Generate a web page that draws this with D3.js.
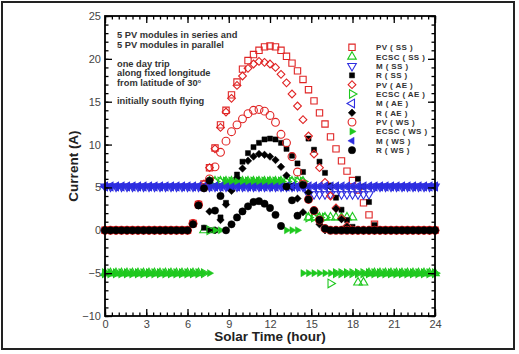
<!DOCTYPE html>
<meta charset="utf-8">
<title>PV current, one day trip</title>
<body>
<script src="https://cdn.jsdelivr.net/npm/d3@7"></script>
<style>
html, body {
    margin: 0;
    background: #fff;
}
svg {
    display: block;
    font-family: "Liberation Sans", Arial, sans-serif;
}
</style>
<svg></svg>
<script>
// solar time grid (hour)
var hours = [0,0.4,0.8,1.2,1.6,2,2.4,2.8,3.2,3.6,4,4.4,4.8,5.2,5.6,6,6.4,6.8,7.2,7.6,
    8,8.4,8.8,9.2,9.6,10,10.4,10.8,11.2,11.6,12,12.4,12.8,13.2,13.6,14,14.4,14.8,15.2,15.6,
    16,16.4,16.8,17.2,17.6,18,18.4,18.8,19.2,19.6,20,20.4,20.8,21.2,21.6,22,22.4,22.8,23.2,23.6,24];

// south flying (SS)
var pvSS = [0,0,0,0,0,0,0,0,0,0,0,0,0,0,0,0,
    0.8,3.0,5.4,7.3,9.6,12.3,14.0,15.8,17.3,18.8,19.8,20.5,21.0,21.4,21.5,
    21.4,21.0,20.3,19.5,18.6,17.6,16.4,15.1,13.7,12.4,10.9,9.5,8.1,6.9,5.8,4.7,3.2,1.8,0.7,
    0,0,0,0,0,0,0,0,0,0,0];
var ecscSS = [-5,-5,-5,-5,-5,-5,-5,-5,-5,-5,-5,-5,-5,-5,-5,-5,-5,-5,
    0,
    5.7,5.7,5.7,5.7,5.7,5.7,5.7,5.7,5.7,5.7,5.7,5.7,5.7,5.7,5.7,5.7,5.7,5.7,
    1.5,1.5,1.5,1.5,1.5,1.5,1.5,1.5,1.5,
    -6.1,-6.1,
    -5,-5,-5,-5,-5,-5,-5,-5,-5,-5,-5,-5,-5];
var mSS = [5.1,5.1,5.1,5.1,5.1,5.1,5.1,5.1,5.1,5.1,5.1,5.1,5.1,5.1,5.1,5.1,5.1,5.1,5.1,5.1,
    5.1,5.1,5.1,5.1,5.1,5.1,5.1,5.1,5.1,5.1,5.1,5.1,5.1,5.1,5.1,5.1,5.1,
    4.2,4.2,4.2,4.2,4.2,4.2,4.2,4.2,4.2,4.2,4.2,4.2,
    5.1,5.1,5.1,5.1,5.1,5.1,5.1,5.1,5.1,5.1,5.1,5.1];
var rSS = [0,0,0,0,0,0,0,0,0,0,0,0,0,0,0,0,
    0.7,2.9,0.3,0,0,1.5,3.2,5.0,6.5,8.0,9.0,9.7,10.2,10.6,10.7,
    10.6,10.2,9.5,8.7,7.8,6.8,10.7,9.4,8.0,6.7,5.2,3.8,2.4,1.2,0.4,6.0,5.1,3.3,0.6,
    0,0,0,0,0,0,0,0,0,0,0];

// along equator (AE)
var pvAE = [0,0,0,0,0,0,0,0,0,0,0,0,0,0,0,0,
    0.8,3.0,5.4,7.3,9.5,12.0,13.8,15.4,16.9,18.0,18.9,19.4,19.7,19.6,19.4,
    19.0,18.2,17.2,15.9,14.5,12.9,11.0,8.9,7.3,5.6,4.0,2.6,1.4,0.5,
    0,0,0,0,0,0,0,0,0,0,0,0,0,0,0,0];
var ecscAE = [-5,-5,-5,-5,-5,-5,-5,-5,-5,-5,-5,-5,-5,-5,-5,-5,-5,-5,-5,
    0,
    5.7,5.7,5.7,5.7,5.7,5.7,5.7,5.7,5.7,5.7,5.7,5.7,5.7,5.7,5.7,5.7,5.7,
    1.5,1.5,1.5,1.5,
    -6.2,
    -5,-5,-5,-5,-5,-5,-5,-5,-5,-5,-5,-5,-5,-5,-5,-5,-5,-5,-5];
var mAE = [5.1,5.1,5.1,5.1,5.1,5.1,5.1,5.1,5.1,5.1,5.1,5.1,5.1,5.1,5.1,5.1,5.1,5.1,5.1,5.1,
    5.1,5.1,5.1,5.1,5.1,5.1,5.1,5.1,5.1,5.1,5.1,5.1,5.1,5.1,5.1,5.1,5.1,5.1,5.1,5.1,
    5.1,5.1,5.1,5.1,5.1,5.1,5.1,5.1,5.1,5.1,5.1,5.1,5.1,5.1,5.1,5.1,5.1,5.1,5.1,5.1,5.1];
var rAE = [0,0,0,0,0,0,0,0,0,0,0,0,0,0,0,0,
    0.7,2.9,4.9,2.2,0,1.2,3.0,4.6,6.1,7.2,8.1,8.6,8.9,8.8,8.6,
    8.2,7.4,6.4,5.1,3.7,2.1,4.4,2.3,0.7,0,5.1,2.5,1.3,0.4,
    0,0,0,0,0,0,0,0,0,0,0,0,0,0,0,0];

// west (WS)
var pvWS = [0,0,0,0,0,0,0,0,0,0,0,0,0,0,0,0,
    0.8,3.0,5.0,6.0,7.4,9.1,10.4,11.5,12.3,13.0,13.6,14.0,14.1,13.9,13.4,
    12.6,11.2,10.2,8.6,6.8,5.4,3.6,2.3,1.2,0.2,
    0,0,0,0,0,0,0,0,0,0,0,0,0,0,0,0,0,0,0,0];
var ecscWS = [-5,-5,-5,-5,-5,-5,-5,-5,-5,-5,-5,-5,-5,-5,-5,-5,-5,-5,-5,-5,
    0,0,
    5.7,5.7,5.7,5.7,5.7,5.7,5.7,5.7,5.7,5.7,5.7,
    0,0,0,
    -5,-5,-5,-5,-5,-5,-5,-5,-5,-5,-5,-5,-5,-5,-5,-5,-5,-5,-5,-5,-5,-5,-5,-5,-5];
var mWS = [5.1,5.1,5.1,5.1,5.1,5.1,5.1,5.1,5.1,5.1,5.1,5.1,5.1,5.1,5.1,5.1,5.1,5.1,5.1,5.1,
    5.1,5.1,5.1,5.1,5.1,5.1,5.1,5.1,5.1,5.1,5.1,5.1,5.1,5.1,5.1,5.1,5.1,5.1,5.1,5.1,
    5.1,5.1,5.1,5.1,5.1,5.1,5.1,5.1,5.1,5.1,5.1,5.1,5.1,5.1,5.1,5.1,5.1,5.1,5.1,5.1,5.1];
var rWS = [0,0,0,0,0,0,0,0,0,0,0,0,0,0,0,0,
    0.7,2.9,4.9,5.8,2.3,4.0,0,0.7,1.5,2.2,2.8,3.3,3.4,3.1,2.6,
    1.8,0.5,5.1,3.5,1.7,5.3,3.6,2.3,1.2,0.2,
    0,0,0,0,0,0,0,0,0,0,0,0,0,0,0,0,0,0,0,0];

var xTicks = [0,3,6,9,12,15,18,21,24];
var yTicks = [-10,-5,0,5,10,15,20,25];
var notes = ["5 PV modules in series and", "5 PV modules in parallel", "",
    "one day trip", "along fixed longitude", "from latitude of 30°", "", "initially south flying"];

var width = 519,
    height = 354,
    red = "#e02424",
    green = "#1fc81f",
    blue = "#2e2ee0";

var series = [
    {name: "PV ( SS )",   values: pvSS,   color: red,    shape: "square",  rot: 0,   size: 40, fill: false},
    {name: "ECSC ( SS )", values: ecscSS, color: green,  shape: "tri",     rot: 0,   size: 32, fill: false},
    {name: "M ( SS )",    values: mSS,    color: blue,   shape: "tri",     rot: 180, size: 32, fill: false},
    {name: "R ( SS )",    values: rSS,    color: "#000", shape: "square",  rot: 0,   size: 26, fill: true},
    {name: "PV ( AE )",   values: pvAE,   color: red,    shape: "square",  rot: 45,  size: 30, fill: false},
    {name: "ECSC ( AE )", values: ecscAE, color: green,  shape: "tri",     rot: 90,  size: 32, fill: false},
    {name: "M ( AE )",    values: mAE,    color: blue,   shape: "tri",     rot: -90, size: 32, fill: false},
    {name: "R ( AE )",    values: rAE,    color: "#000", shape: "square",  rot: 45,  size: 28, fill: true},
    {name: "PV ( WS )",   values: pvWS,   color: red,    shape: "circle",  rot: 0,   size: 48, fill: false},
    {name: "ECSC ( WS )", values: ecscWS, color: green,  shape: "tri",     rot: 90,  size: 22, fill: true},
    {name: "M ( WS )",    values: mWS,    color: blue,   shape: "tri",     rot: -90, size: 22, fill: true},
    {name: "R ( WS )",    values: rWS,    color: "#000", shape: "circle",  rot: 0,   size: 42, fill: true}
];

var shapes = {square: d3.symbolSquare, tri: d3.symbolTriangle, circle: d3.symbolCircle};

var svg = d3.select("svg")
    .attr("width", width)
    .attr("height", height);

var x = d3.scaleLinear().domain([0, 24]).range([105, 435]);
var y = d3.scaleLinear().domain([-10, 25]).range([316, 16]);

// outer frame
svg.append("rect")
    .attr("x", 2).attr("y", 2)
    .attr("width", 512).attr("height", 347)
    .attr("fill", "none")
    .attr("stroke", "#222")
    .attr("stroke-width", 2);

function style(sel, s) {
    sel.attr("d", d3.symbol(shapes[s.shape], s.size)())
        .attr("fill", s.fill ? s.color : "none")
        .attr("stroke", s.color)
        .attr("stroke-width", s.fill ? 0.5 : 1.1);
}

// markers
var plot = svg.append("g");
series.forEach(function(s) {
    var pts = hours.map(function(h, i) { return [h, s.values[i]]; })
        .filter(function(p) { return p[1] != null; });
    plot.append("g").selectAll("path")
        .data(pts)
        .enter().append("path")
        .attr("transform", function(p) {
            return "translate(" + x(p[0]) + "," + y(p[1]) + ")rotate(" + s.rot + ")";
        })
        .call(style, s);
});

// axes, ticks pointing inward
var minorX = d3.range(0, 24.01, 0.5),
    minorY = d3.range(-10, 25.01, 1);

function addAxis(make, scale, tx, majors, minors, labels) {
    svg.append("g").attr("transform", tx)
        .call(make(scale).tickValues(minors).tickSize(-3.5).tickFormat(""));
    svg.append("g").attr("transform", tx)
        .call(make(scale).tickValues(majors).tickSize(-7).tickPadding(4)
            .tickFormat(labels ? d3.format("d") : ""));
}

addAxis(d3.axisBottom, x, "translate(0,316)", xTicks, minorX, true);
addAxis(d3.axisTop, x, "translate(0,16)", xTicks, minorX, false);
addAxis(d3.axisLeft, y, "translate(105,0)", yTicks, minorY, true);
addAxis(d3.axisRight, y, "translate(435,0)", yTicks, minorY, false);

svg.selectAll(".domain").remove();
svg.selectAll(".tick line").attr("stroke", "#000").attr("stroke-width", 1.3);
svg.selectAll(".tick text")
    .attr("font-size", 11)
    .attr("fill", "#444")
    .attr("font-family", "Liberation Sans, Arial, sans-serif");

svg.append("rect")
    .attr("x", x(0)).attr("y", y(25))
    .attr("width", x(24) - x(0)).attr("height", y(-10) - y(25))
    .attr("fill", "none")
    .attr("stroke", "#000")
    .attr("stroke-width", 1.8);

// axis titles
svg.append("text")
    .attr("x", 270).attr("y", 341)
    .attr("text-anchor", "middle")
    .attr("font-size", 13.5)
    .attr("font-weight", "bold")
    .attr("fill", "#222")
    .text("Solar Time (hour)");

svg.append("text")
    .attr("transform", "translate(78,166)rotate(-90)")
    .attr("text-anchor", "middle")
    .attr("font-size", 13.5)
    .attr("font-weight", "bold")
    .attr("fill", "#222")
    .text("Current (A)");

// notes
var nt = svg.append("g").attr("font-size", 9.3).attr("font-weight", "bold").attr("fill", "#333");
notes.forEach(function(t, i) {
    if (!t) return;
    nt.append("text").attr("x", 117).attr("y", 38.3 + 9.45 * i).text(t);
});

// legend
var lg = svg.append("g").attr("font-size", 8).attr("font-weight", "bold").attr("fill", "#333");
series.forEach(function(s, i) {
    var cy = 47.3 + 9.35 * i;
    lg.append("path")
        .attr("transform", "translate(352," + cy + ")rotate(" + s.rot + ")")
        .call(style, s);
    lg.append("text")
        .attr("x", 376).attr("y", cy + 3)
        .attr("letter-spacing", 0.4)
        .text(s.name);
});
</script>
